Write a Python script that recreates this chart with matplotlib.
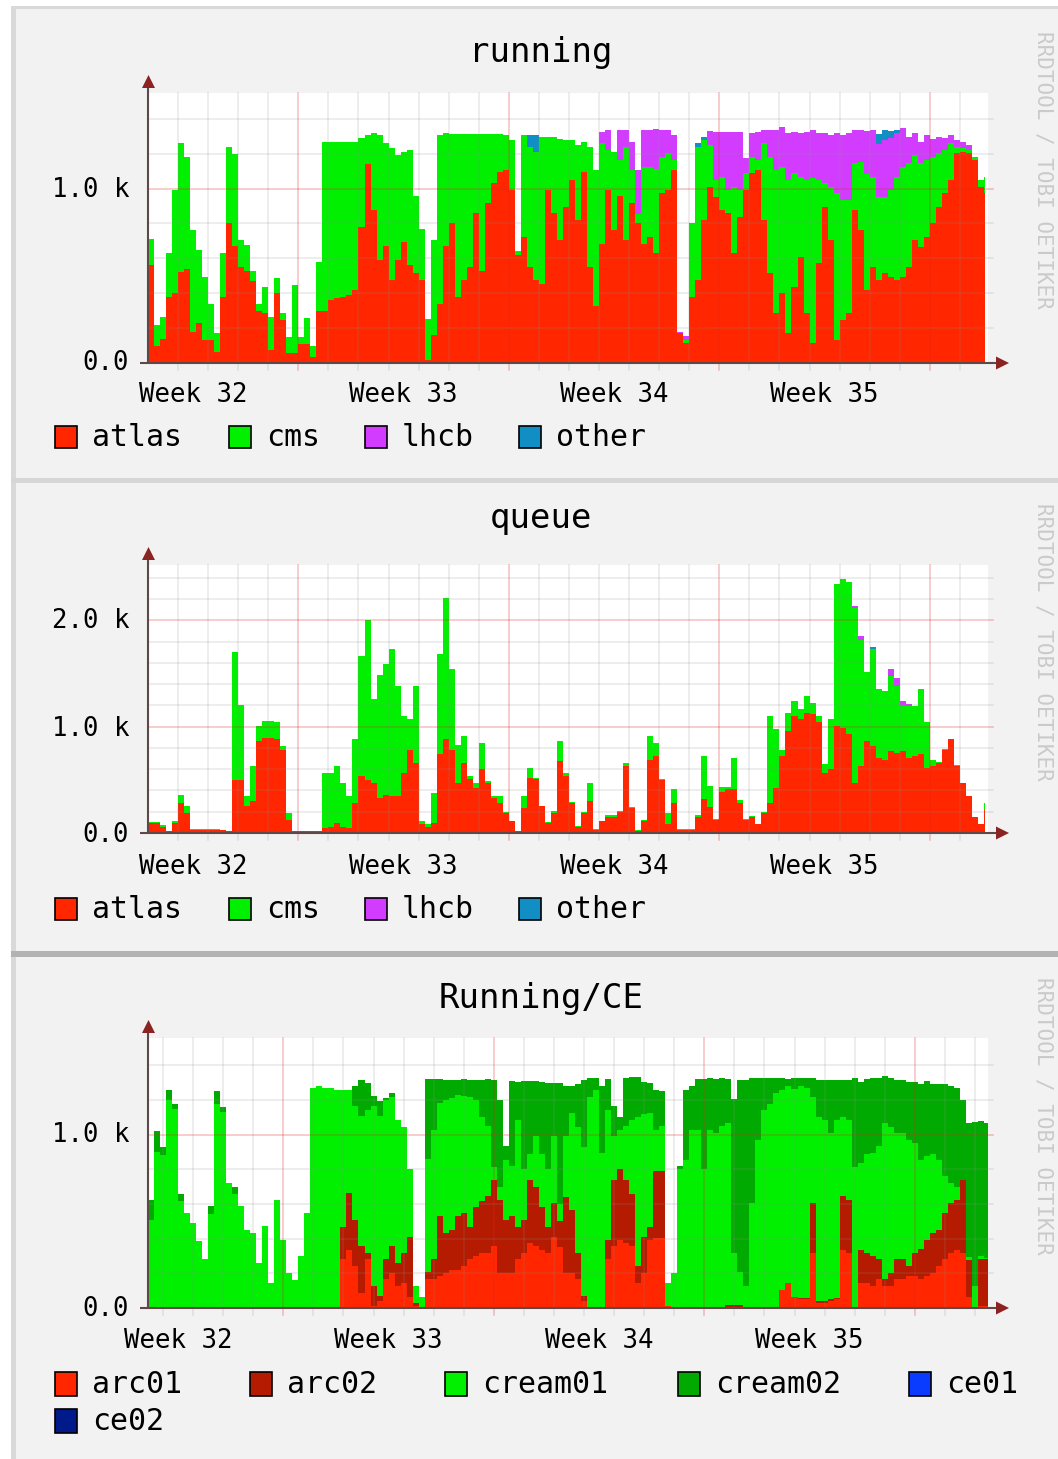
import numpy as np
import matplotlib
matplotlib.use("Agg")
import matplotlib.pyplot as plt
from matplotlib.patches import Rectangle, Polygon
from matplotlib.lines import Line2D

# ============================ DATA ============================
# time axis: one sample every 0.2 day, day 0 = left edge of the plot
N_SAMPLES = 140
SAMPLE_DAYS = 0.2
days = np.arange(N_SAMPLES) * SAMPLE_DAYS

week_labels = ["Week 32", "Week 33", "Week 34", "Week 35"]

# ---- panel 1 : running ----
run_names = ["atlas", "cms", "lhcb", "other"]
run_atlas = [
    560, 95, 140, 380, 400, 520, 540, 180, 230, 130,
    130, 65, 380, 800, 670, 550, 530, 470, 300, 285,
    75, 400, 245, 55, 55, 110, 110, 35, 300, 300,
    360, 370, 380, 390, 420, 780, 1140, 880, 590, 670,
    475, 590, 695, 560, 515, 475, 20, 160, 340, 670,
    800, 380, 475, 550, 860, 525, 915, 1030, 1095, 1105,
    990, 620, 725, 550, 475, 455, 990, 860, 705, 895,
    1050, 820, 1095, 550, 325, 685, 990, 760, 955, 705,
    915, 800, 685, 725, 630, 973, 992, 1106, 170, 113,
    380, 476, 820, 1010, 954, 877, 858, 629, 839, 992,
    1087, 1106, 820, 514, 285, 400, 170, 438, 610, 285,
    113, 571, 896, 705, 132, 247, 285, 877, 762, 418,
    552, 476, 514, 495, 476, 495, 552, 705, 667, 724,
    800, 896, 973, 1049, 1202, 1212, 1202, 1164, 1011, 973]
run_cms = [
    150, 125, 125, 250, 590, 740, 640, 580, 420, 365,
    210, 105, 250, 440, 530, 155, 145, 60, 40, 150,
    190, 85, 40, 95, 390, 40, 150, 60, 280, 970,
    910, 900, 890, 880, 845, 510, 165, 440, 715, 590,
    755, 600, 515, 660, 440, 295, 230, 545, 965, 650,
    515, 935, 840, 765, 455, 790, 400, 285, 220, 205,
    290, 20, 580, 690, 735, 840, 305, 435, 580, 385,
    230, 430, 175, 690, 780, 575, 230, 450, 210, 535,
    190, 55, 440, 400, 480, 210, 210, 57, 0, 20,
    420, 764, 460, 240, 95, 191, 134, 382, 153, 95,
    96, 57, 440, 669, 822, 726, 879, 650, 459, 764,
    946, 478, 134, 306, 841, 688, 650, 267, 392, 667,
    515, 477, 439, 497, 592, 630, 592, 487, 478, 439,
    382, 306, 248, 210, 38, 19, 19, 19, 38, 96]
run_lhcb = [
    0, 0, 0, 0, 0, 0, 0, 0, 0, 0,
    0, 0, 0, 0, 0, 0, 0, 0, 0, 0,
    0, 0, 0, 0, 0, 0, 0, 0, 0, 0,
    0, 0, 0, 0, 0, 0, 0, 0, 0, 0,
    0, 0, 0, 0, 0, 0, 0, 0, 0, 0,
    0, 0, 0, 0, 0, 0, 0, 0, 0, 0,
    0, 0, 0, 0, 0, 0, 0, 0, 0, 0,
    0, 0, 0, 0, 0, 65, 115, 0, 170, 95,
    160, 250, 210, 210, 230, 155, 135, 143, 10, 20,
    0, 0, 0, 80, 277, 258, 335, 315, 335, 86,
    134, 163, 75, 153, 229, 229, 267, 239, 248, 277,
    277, 267, 287, 296, 344, 371, 382, 191, 181, 248,
    267, 300, 325, 300, 248, 220, 153, 124, 124, 143,
    105, 96, 67, 48, 38, 38, 29, 0, 0, 0]
run_other = [
    0, 0, 0, 0, 0, 0, 0, 0, 0, 0,
    0, 0, 0, 0, 0, 0, 0, 0, 0, 0,
    0, 0, 0, 0, 0, 0, 0, 0, 0, 0,
    0, 0, 0, 0, 0, 0, 0, 0, 0, 0,
    0, 0, 0, 0, 0, 0, 0, 0, 0, 0,
    0, 0, 0, 0, 0, 0, 0, 0, 0, 0,
    0, 0, 0, 65, 95, 0, 0, 0, 0, 0,
    0, 0, 0, 0, 0, 0, 0, 0, 0, 0,
    0, 0, 0, 0, 0, 0, 0, 0, 0, 0,
    0, 20, 15, 0, 0, 0, 0, 0, 0, 0,
    0, 0, 0, 0, 0, 0, 0, 0, 0, 0,
    0, 0, 0, 0, 0, 0, 0, 0, 0, 0,
    0, 60, 57, 40, 20, 0, 0, 0, 0, 0,
    0, 0, 0, 0, 0, 0, 0, 0, 0, 0]

# ---- panel 2 : queue ----
queue_atlas = [
    90, 90, 60, 15, 95, 280, 190, 30, 30, 30,
    30, 30, 25, 15, 500, 500, 250, 300, 865, 895,
    895, 885, 785, 125, 15, 15, 15, 15, 15, 45,
    60, 95, 60, 45, 280, 535, 500, 470, 330, 360,
    345, 345, 565, 785, 660, 80, 60, 95, 740, 880,
    785, 470, 660, 505, 420, 600, 470, 330, 285, 190,
    110, 15, 235, 520, 505, 250, 95, 190, 675, 535,
    280, 60, 190, 300, 30, 110, 155, 150, 200, 630,
    235, 20, 110, 690, 720, 500, 80, 285, 30, 30,
    30, 155, 320, 240, 125, 390, 410, 410, 285, 125,
    155, 80, 190, 285, 425, 725, 960, 1100, 1070, 1130,
    1115, 1040, 565, 600, 1005, 990, 930, 470, 630, 865,
    820, 710, 690, 770, 755, 770, 710, 725, 740, 615,
    630, 660, 785, 880, 630, 470, 345, 155, 80, 220]
queue_cms = [
    15, 15, 15, 5, 15, 80, 60, 5, 5, 5,
    5, 5, 5, 5, 1200, 700, 100, 330, 140, 160,
    160, 160, 30, 60, 5, 5, 5, 5, 5, 520,
    500, 535, 410, 300, 600, 1130, 1500, 790, 1160, 1230,
    1385, 1040, 535, 285, 725, 30, 20, 280, 940, 1335,
    755, 360, 250, 30, 50, 250, 20, 15, 60, 10,
    5, 0, 110, 95, 15, 5, 5, 20, 190, 30,
    10, 5, 10, 170, 5, 5, 15, 15, 10, 30,
    5, 5, 10, 220, 130, 10, 110, 125, 5, 5,
    5, 10, 400, 200, 10, 45, 20, 300, 30, 5,
    5, 5, 5, 815, 550, 60, 170, 140, 95, 160,
    110, 60, 80, 470, 1340, 1400, 1430, 1650, 1190, 645,
    910, 640, 645, 710, 630, 425, 485, 470, 610, 425,
    60, 10, 5, 5, 5, 5, 5, 0, 0, 60]
queue_lhcb = [
    0, 0, 0, 0, 0, 0, 0, 0, 0, 0,
    0, 0, 0, 0, 0, 0, 0, 0, 0, 0,
    0, 0, 0, 0, 0, 0, 0, 0, 0, 0,
    0, 0, 0, 0, 0, 0, 0, 0, 0, 0,
    0, 0, 0, 0, 0, 0, 0, 0, 0, 0,
    0, 0, 0, 0, 0, 0, 0, 0, 0, 0,
    0, 0, 0, 0, 0, 0, 0, 0, 0, 0,
    0, 0, 0, 0, 0, 0, 0, 0, 0, 0,
    0, 0, 0, 0, 0, 0, 0, 0, 0, 0,
    0, 0, 0, 0, 0, 0, 0, 0, 0, 0,
    0, 0, 0, 0, 0, 0, 0, 0, 0, 0,
    0, 0, 0, 0, 0, 0, 0, 20, 30, 0,
    0, 0, 0, 60, 75, 45, 20, 0, 0, 0,
    0, 0, 0, 0, 0, 0, 0, 0, 0, 0]
queue_other = [
    0, 0, 0, 0, 0, 0, 0, 0, 0, 0,
    0, 0, 0, 0, 0, 0, 0, 0, 0, 0,
    0, 0, 0, 0, 0, 0, 0, 0, 0, 0,
    0, 0, 0, 0, 0, 0, 0, 0, 0, 0,
    0, 0, 0, 0, 0, 0, 0, 0, 0, 0,
    0, 0, 0, 0, 0, 0, 0, 0, 0, 0,
    0, 0, 0, 0, 0, 0, 0, 0, 0, 0,
    0, 0, 0, 0, 0, 0, 0, 0, 0, 0,
    0, 0, 0, 0, 0, 0, 0, 0, 0, 0,
    0, 0, 0, 0, 0, 0, 0, 0, 0, 0,
    0, 0, 0, 0, 0, 0, 0, 0, 0, 0,
    0, 0, 0, 0, 0, 0, 0, 0, 0, 0,
    20, 0, 0, 0, 0, 0, 0, 0, 0, 0,
    0, 0, 0, 0, 0, 0, 0, 0, 0, 0]

# ---- panel 3 : Running/CE ----
ce_names = ["arc01", "arc02", "cream01", "cream02", "ce01", "ce02"]
ce_arc01 = [
    0, 0, 0, 0, 0, 0, 0, 0, 0, 0,
    0, 0, 0, 0, 0, 0, 0, 0, 0, 0,
    0, 0, 0, 0, 0, 0, 0, 0, 0, 0,
    0, 0, 280, 335, 240, 87, 280, 10, 40, 165,
    200, 125, 145, 65, 10, 0, 165, 165, 185, 200,
    220, 220, 240, 280, 300, 315, 315, 355, 200, 200,
    200, 280, 315, 375, 355, 335, 315, 410, 350, 200,
    200, 165, 40, 0, 0, 0, 280, 355, 395, 375,
    355, 145, 200, 395, 405, 405, 10, 0, 0, 0,
    0, 0, 0, 0, 0, 0, 0, 0, 0, 0,
    0, 0, 0, 0, 0, 105, 145, 65, 50, 50,
    315, 30, 30, 40, 50, 335, 315, 0, 145, 145,
    125, 165, 125, 125, 165, 165, 185, 185, 165, 185,
    200, 240, 280, 315, 335, 315, 65, 0, 10, 10]
ce_arc02 = [
    0, 0, 0, 0, 0, 0, 0, 0, 0, 0,
    0, 0, 0, 0, 0, 0, 0, 0, 0, 0,
    0, 0, 0, 0, 0, 0, 0, 0, 0, 0,
    0, 0, 190, 330, 270, 270, 40, 115, 30, 115,
    155, 135, 170, 345, 20, 0, 40, 115, 345, 230,
    230, 310, 310, 190, 285, 300, 330, 385, 425, 310,
    330, 190, 195, 365, 345, 250, 155, 195, 150, 440,
    365, 150, 30, 0, 0, 0, 115, 385, 405, 365,
    305, 95, 210, 75, 385, 385, 0, 0, 0, 0,
    0, 0, 0, 0, 0, 0, 20, 20, 15, 0,
    0, 0, 0, 0, 0, 0, 0, 0, 10, 10,
    290, 10, 10, 10, 10, 310, 310, 0, 190, 170,
    175, 115, 40, 75, 115, 115, 55, 130, 175, 210,
    230, 210, 270, 290, 290, 425, 210, 0, 270, 270]
ce_cream01 = [
    510, 900, 880, 1200, 1150, 620, 548, 490, 385, 280,
    540, 1180, 1130, 720, 660, 587, 452, 433, 260, 471,
    144, 625, 394, 200, 163, 298, 548, 1269, 1279, 1269,
    1269, 1260, 790, 595, 655, 750, 825, 1040, 1040, 920,
    865, 825, 730, 390, 95, 65, 655, 750, 655, 770,
    760, 700, 675, 750, 615, 490, 405, 75, 75, 345,
    290, 615, 290, 150, 290, 305, 330, 385, 100, 350,
    560, 730, 860, 1220, 1260, 895, 750, 250, 230, 310,
    425, 865, 710, 655, 240, 260, 135, 200, 800, 855,
    1030, 1030, 800, 1030, 1010, 1050, 1050, 300, 190, 125,
    605, 970, 1145, 1180, 1240, 1155, 1135, 1200, 1220, 1210,
    615, 1065, 1045, 960, 1025, 460, 460, 815, 500, 575,
    595, 655, 905, 845, 730, 730, 730, 635, 515, 480,
    460, 405, 210, 115, 75, 0, 20, 125, 20, 10]
ce_cream02 = [
    115, 120, 50, 60, 30, 40, 0, 0, 0, 0,
    50, 70, 30, 0, 40, 0, 0, 0, 0, 0,
    0, 0, 0, 0, 0, 0, 0, 0, 0, 0,
    0, 0, 0, 0, 115, 210, 155, 60, 85, 10,
    20, 0, 0, 0, 0, 0, 460, 290, 135, 115,
    105, 85, 95, 95, 115, 210, 270, 500, 500, 80,
    490, 220, 510, 420, 320, 415, 500, 310, 700, 290,
    155, 250, 385, 105, 65, 385, 175, 175, 75, 280,
    250, 230, 185, 175, 230, 200, 0, 0, 20, 405,
    250, 290, 520, 300, 310, 275, 250, 885, 1110, 1190,
    720, 355, 180, 145, 85, 65, 40, 60, 45, 55,
    105, 210, 230, 305, 230, 210, 230, 510, 470, 430,
    430, 395, 270, 285, 305, 305, 335, 355, 440, 435,
    405, 440, 530, 560, 570, 460, 770, 950, 780, 780]
ce_ce01 = [
    0, 0, 0, 0, 0, 0, 0, 0, 0, 0,
    0, 0, 0, 0, 0, 0, 0, 0, 0, 0,
    0, 0, 0, 0, 0, 0, 0, 0, 0, 0,
    0, 0, 0, 0, 0, 0, 0, 0, 0, 0,
    0, 0, 0, 0, 0, 0, 0, 0, 0, 0,
    0, 0, 0, 0, 0, 0, 0, 0, 0, 0,
    0, 0, 0, 0, 0, 0, 0, 0, 0, 0,
    0, 0, 0, 0, 0, 0, 0, 0, 0, 0,
    0, 0, 0, 0, 0, 0, 0, 0, 0, 0,
    0, 0, 0, 0, 0, 0, 0, 0, 0, 0,
    0, 0, 0, 0, 0, 0, 0, 0, 0, 0,
    0, 0, 0, 0, 0, 0, 0, 0, 0, 0,
    0, 0, 0, 0, 0, 0, 0, 0, 0, 0,
    0, 0, 0, 0, 0, 0, 0, 0, 0, 0]
ce_ce02 = [
    0, 0, 0, 0, 0, 0, 0, 0, 0, 0,
    0, 0, 0, 0, 0, 0, 0, 0, 0, 0,
    0, 0, 0, 0, 0, 0, 0, 0, 0, 0,
    0, 0, 0, 0, 0, 0, 0, 0, 0, 0,
    0, 0, 0, 0, 0, 0, 0, 0, 0, 0,
    0, 0, 0, 0, 0, 0, 0, 0, 0, 0,
    0, 0, 0, 0, 0, 0, 0, 0, 0, 0,
    0, 0, 0, 0, 0, 0, 0, 0, 0, 0,
    0, 0, 0, 0, 0, 0, 0, 0, 0, 0,
    0, 0, 0, 0, 0, 0, 0, 0, 0, 0,
    0, 0, 0, 0, 0, 0, 0, 0, 0, 0,
    0, 0, 0, 0, 0, 0, 0, 0, 0, 0,
    0, 0, 0, 0, 0, 0, 0, 0, 0, 0,
    0, 0, 0, 0, 0, 0, 0, 0, 0, 0]

# ============================ STYLE / LAYOUT ============================
FONT = "DejaVu Sans Mono"
W, H = 1058, 1459
PX_PER_DAY = 30.07
AX_LEFT, AX_RIGHT = 148, 988
XMAX = (AX_RIGHT - AX_LEFT) / PX_PER_DAY

RUN_COLORS = ["#ff2600", "#00f000", "#d23cff", "#118fc4"]
CE_COLORS = ["#ff2600", "#b51b00", "#00f000", "#00aa00", "#0a3cff", "#001a8a"]

GRID_C = "#8c8c8c"
MGRID_C = "#e02828"
AXIS_C = "#5e4848"
ARROW_C = "#8b2323"

fig = plt.figure(figsize=(W / 100, H / 100), dpi=100)
fig.patch.set_facecolor("white")


def fig_rect(x0, y0, x1, y1, color, z=-10, ec="none", lw=0):
    fig.add_artist(Rectangle((x0 / W, 1 - y1 / H), (x1 - x0) / W, (y1 - y0) / H,
                             transform=fig.transFigure, facecolor=color,
                             edgecolor=ec, linewidth=lw, zorder=z))


def fig_line(x0, y0, x1, y1, color, lw, z=6):
    fig.add_artist(Line2D([x0 / W, x1 / W], [1 - y0 / H, 1 - y1 / H],
                          transform=fig.transFigure, color=color, lw=lw,
                          solid_capstyle="butt", zorder=z))


def fig_poly(pts, color, z=7):
    fig.add_artist(Polygon([(x / W, 1 - y / H) for x, y in pts], closed=True,
                           transform=fig.transFigure, facecolor=color,
                           edgecolor="none", zorder=z))


def fig_text(x, y, s, size, ha="left", va="baseline", color="black", rot=0):
    fig.text(x / W, 1 - y / H, s, fontsize=size, ha=ha, va=va, color=color,
             rotation=rot, family=FONT, zorder=8)


# page / panel backgrounds
fig_rect(11, 6, W, H, "#f2f2f2", z=-20)
fig_rect(11, 6, 16, H, "#d9d9d9")
fig_rect(11, 6, W, 9, "#d9d9d9")
fig_rect(11, 478, W, 483, "#d6d6d6")
fig_rect(11, 951, W, 957, "#b3b3b3")


def draw_panel(title, title_base, top, bottom, px_per_k, series, colors, names,
               end_day, grid_offset, ylabels, ylabel_base, week_base,
               wm_center, legend_rows):
    height = bottom - top
    ymax = height / px_per_k * 1000.0
    ax = fig.add_axes([AX_LEFT / W, 1 - bottom / H, (AX_RIGHT - AX_LEFT) / W, height / H])
    ax.set_xlim(0, XMAX)
    ax.set_ylim(0, ymax)
    ax.set_facecolor("white")
    for s in ax.spines.values():
        s.set_visible(False)
    ax.set_xticks([])
    ax.set_yticks([])

    # stacked step areas
    x = np.append(days, end_day)
    base = np.zeros(len(days) + 1)
    for vals, c in zip(series, colors):
        v = np.asarray(vals, dtype=float)
        v = np.append(v, v[-1])
        topv = base + v
        ax.fill_between(x, base, topv, step="post", color=c, linewidth=0,
                        antialiased=False, zorder=2)
        base = topv

    # grid (drawn over the data, semi-transparent as in rrdtool)
    ext_y = ymax * 7.0 / height
    ext_x = 5.0 / PX_PER_DAY
    k = 0
    while grid_offset + k <= XMAX:
        d = grid_offset + k
        major = (k - (5 if grid_offset == 0 else 4)) % 7 == 0
        if d > 0.05:
            ax.plot([d, d], [-ext_y, ymax], color=MGRID_C if major else GRID_C,
                    alpha=0.3 if major else 0.2, lw=1.1, clip_on=False, zorder=3)
        k += 1
    yv = 200
    while yv < ymax:
        major = yv % 1000 == 0
        ax.plot([0, XMAX + ext_x], [yv, yv], color=MGRID_C if major else GRID_C,
                alpha=0.3 if major else 0.2, lw=1.1, clip_on=False, zorder=3)
        yv += 200

    # axes with arrows
    fig_line(AX_LEFT, bottom, AX_LEFT, top - 5, AXIS_C, 1.5)
    fig_poly([(AX_LEFT + 0.5, top - 18), (AX_LEFT - 6, top - 5), (AX_LEFT + 7, top - 5)], ARROW_C)
    fig_line(AX_LEFT - 8, bottom, AX_RIGHT + 9, bottom, AXIS_C, 1.5)
    fig_poly([(AX_RIGHT + 21, bottom), (AX_RIGHT + 8, bottom - 6.5), (AX_RIGHT + 8, bottom + 6.5)], ARROW_C)

    # title
    fig_text(541, title_base, title, 24.5, ha="center")
    # y labels
    for (val, lab), yb in zip(ylabels, ylabel_base):
        fig_text(129, yb, lab, 18.5, ha="right")
    # week labels (centered mid-week)
    first_major = grid_offset + (5 if grid_offset == 0 else 4)
    for i, wl in enumerate(week_labels):
        d = first_major - 3.5 + 7 * i
        fig_text(AX_LEFT + d * PX_PER_DAY, week_base, wl, 18.5, ha="center")
    # watermark
    fig_text(1043, wm_center, "RRDTOOL / TOBI OETIKER", 15, ha="center",
             va="center", color="#cacaca", rot=270)
    # legend
    for (sq_x, txt_x, sq_top, sq_bot, base_y, idx) in legend_rows:
        fig_rect(sq_x, sq_top, sq_x + 22, sq_bot, colors[idx], z=7, ec="black", lw=1.2)
        fig_text(txt_x, base_y, names[idx], 21.5)


# panel 1: running
leg1 = [(55, 92, 426, 448, 446, 0), (229, 266, 426, 448, 446, 1),
        (365, 402, 426, 448, 446, 2), (519, 556, 426, 448, 446, 3)]
draw_panel("running", 62, 93, 363, 174.4,
           [run_atlas, run_cms, run_lhcb, run_other], RUN_COLORS, run_names,
           27.82, 0, [(1000, "1.0 k"), (0, "0.0")], [197, 370.5], 402, 170, leg1)

# panel 2: queue
leg2 = [(55, 92, 898, 920, 918, 0), (229, 266, 898, 920, 918, 1),
        (365, 402, 898, 920, 918, 2), (519, 556, 898, 920, 918, 3)]
draw_panel("queue", 528, 565, 833, 106.3,
           [queue_atlas, queue_cms, queue_lhcb, queue_other], RUN_COLORS, run_names,
           27.83, 0, [(2000, "2.0 k"), (1000, "1.0 k"), (0, "0.0")],
           [628.5, 735.5, 841.5], 874, 642, leg2)

# panel 3: Running/CE
leg3 = [(55, 92, 1372, 1396, 1393, 0), (250, 287, 1372, 1396, 1393, 1),
        (445, 482, 1372, 1396, 1393, 2), (678, 715, 1372, 1396, 1393, 3),
        (909, 946, 1372, 1396, 1393, 4), (55, 92, 1409, 1433, 1430, 5)]
draw_panel("Running/CE", 1008, 1038, 1308, 173.3,
           [ce_arc01, ce_arc02, ce_cream01, ce_cream02, ce_ce01, ce_ce02],
           CE_COLORS, ce_names, 27.93, 0.5,
           [(1000, "1.0 k"), (0, "0.0")], [1142.5, 1316.5], 1348, 1116, leg3)

fig.savefig("out.png", dpi=100, facecolor=fig.get_facecolor())
